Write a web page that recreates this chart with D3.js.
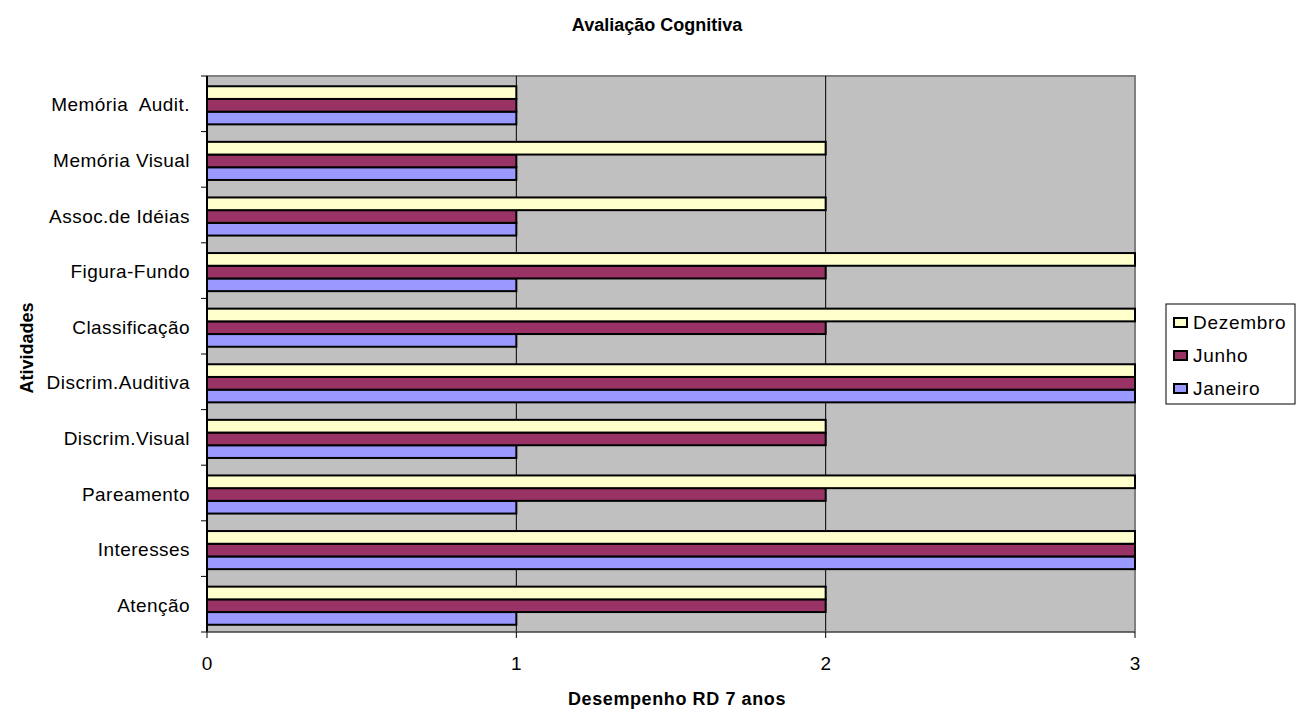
<!DOCTYPE html>
<html><head><meta charset="utf-8">
<script src="https://cdn.jsdelivr.net/npm/d3@7"></script>
<style>body{margin:0;background:#fff}svg{display:block;font-family:Arial,"Liberation Sans",sans-serif}</style>
</head><body><svg id="c" width="1303" height="718"></svg>
<script>
const categories = ["Atenção","Interesses","Pareamento","Discrim.Visual","Discrim.Auditiva","Classificação","Figura-Fundo","Assoc.de Idéias","Memória Visual","Memória  Audit."];
const janeiro  = [1,3,1,1,3,1,1,1,1,1];
const junho    = [2,3,2,2,3,2,2,1,1,1];
const dezembro = [2,3,3,2,3,3,3,2,2,1];
const seriesNames = ["Janeiro","Junho","Dezembro"];
const seriesColors = ["#9999FF","#993366","#FFFFCC"];
const xTicks = [0,1,2,3];

const svg = d3.select("#c");
const L=207,R=1135,T=76,B=632;
const x = d3.scaleLinear().domain([0,3]).range([L,R]);
const y = d3.scaleBand().domain(categories.slice().reverse()).range([T,B]);
const series = [janeiro,junho,dezembro];

svg.append("rect").attr("x",L).attr("y",T).attr("width",R-L).attr("height",B-T).attr("fill","#C0C0C0");
svg.append("path").attr("d",`M${L},${T}H${R}V${B}`).attr("fill","none").attr("stroke","#808080").attr("stroke-width",2);
svg.selectAll(".g").data(xTicks.filter(d=>d>0&&d<3)).enter().append("line")
  .attr("x1",d=>x(d)).attr("x2",d=>x(d)).attr("y1",T).attr("y2",B).attr("stroke","#000").attr("stroke-width",1);

const bw = y.bandwidth();
const barH = 12.7;
const groupH = barH*3;
series.forEach((vals,si)=>{
  const slot = 2-si;
  svg.append("g").selectAll("rect").data(categories).enter().append("rect")
    .attr("x",x(0))
    .attr("y",(c)=>y(c)+(bw-groupH)/2+1.5+slot*barH)
    .attr("width",(c,i)=>x(vals[i])-x(0))
    .attr("height",barH)
    .attr("fill",seriesColors[si]).attr("stroke","#000").attr("stroke-width",2);
});

svg.append("line").attr("x1",L).attr("x2",L).attr("y1",T).attr("y2",B).attr("stroke","#000").attr("stroke-width",2);
svg.append("line").attr("x1",L).attr("x2",R).attr("y1",B).attr("y2",B).attr("stroke","#404040").attr("stroke-width",1.5);
const yTickPos = categories.map(c=>y(c)).concat([B]);
svg.selectAll(".yt").data(yTickPos).enter().append("line")
  .attr("x1",L-6).attr("x2",L).attr("y1",d=>d).attr("y2",d=>d).attr("stroke","#000");
svg.selectAll(".xt").data(xTicks).enter().append("line")
  .attr("x1",d=>x(d)).attr("x2",d=>x(d)).attr("y1",B).attr("y2",B+6).attr("stroke","#000");
svg.selectAll(".yl").data(categories).enter().append("text")
  .attr("x",190).attr("y",c=>y(c)+bw/2).attr("dy","0.4em").attr("text-anchor","end")
  .attr("font-size",19).attr("letter-spacing",0.45).style("white-space","pre").text(c=>c);
svg.selectAll(".xl").data(xTicks).enter().append("text")
  .attr("x",d=>x(d)).attr("y",670).attr("text-anchor","middle").attr("font-size",19).text(d=>d);

svg.append("text").attr("x",657).attr("y",31).attr("text-anchor","middle").attr("font-size",18).attr("font-weight","bold").text("Avaliação Cognitiva");
svg.append("text").attr("x",677).attr("y",705).attr("text-anchor","middle").attr("font-size",18).attr("letter-spacing",0.6).attr("font-weight","bold").text("Desempenho RD 7 anos");
svg.append("text").attr("transform",`translate(33,348) rotate(-90)`).attr("text-anchor","middle").attr("font-size",18).attr("font-weight","bold").text("Atividades");

svg.append("rect").attr("x",1166).attr("y",304).attr("width",129).attr("height",100).attr("fill","#fff").attr("stroke","#000").attr("stroke-width",1);
const legOrder=[2,1,0];
legOrder.forEach((si,k)=>{
  const cy=322+k*33;
  svg.append("rect").attr("x",1174).attr("y",cy-4).attr("width",13).attr("height",9).attr("fill",seriesColors[si]).attr("stroke","#000").attr("stroke-width",2);
  svg.append("text").attr("x",1193).attr("y",cy).attr("dy","0.37em").attr("font-size",19).attr("letter-spacing",0.7).text(seriesNames[si]);
});
</script></body></html>
